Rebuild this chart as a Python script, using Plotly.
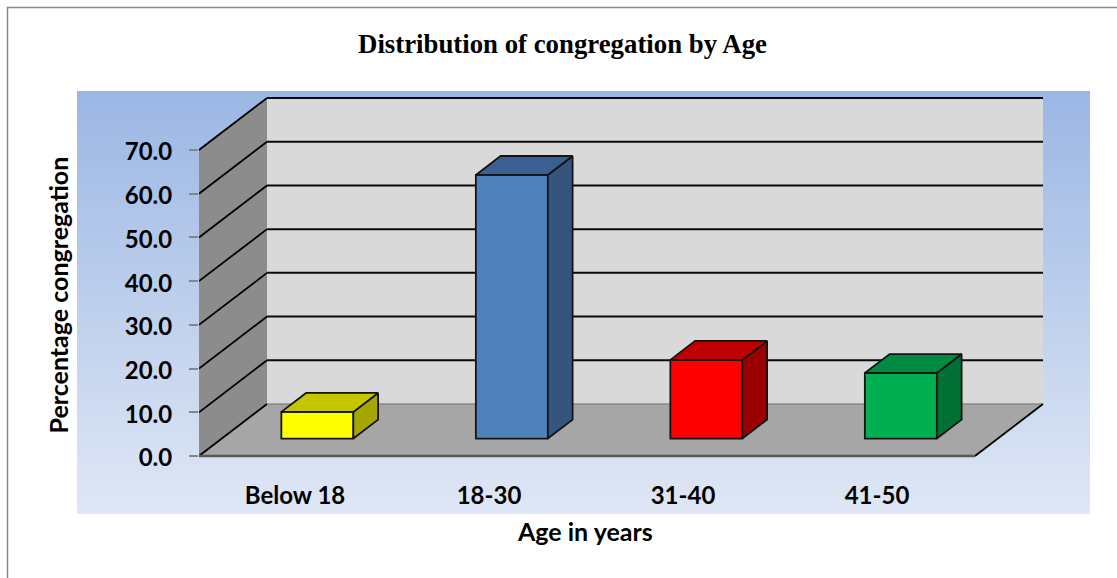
import plotly.graph_objects as go

# ---- data ----
categories = ["Below 18", "18-30", "31-40", "41-50"]
values = [6.1, 60.3, 18.0, 15.0]
y_ticks = [0, 10, 20, 30, 40, 50, 60, 70]
front_colors = ["#FFFF00", "#4F81BD", "#FF0000", "#00B050"]
top_colors = ["#C6C600", "#3A5F93", "#C00000", "#008C40"]
side_colors = ["#A6A600", "#35557F", "#9A0000", "#007034"]

# ---- page geometry ----
W, H = 1117, 578
PX_PER_CAT = 194.0
PX_PER_VAL = 306.0 / 70.0
LEFT, RIGHT, TOP, BOTTOM = 199, 1048, 95, 459
ZERO_PX = 456
DEPTH_X = 68 / PX_PER_CAT      # oblique depth, in category units
DEPTH_Y = 52 / PX_PER_VAL      # oblique depth, in value units
BAR_WIDTH = 72 / PX_PER_CAT
BAR_SHIFT = -1.5 / PX_PER_CAT
BAR_PITCH = 194.5 / PX_PER_CAT
D0, D1 = 0.336, 0.70           # bar position along the floor depth
X0, X1 = -0.5, 3.5
VMAX = y_ticks[-1]
EDGE = "#141414"


def proj(x, v, d):
    return x + d * DEPTH_X, v + d * DEPTH_Y


def poly_path(points):
    return "M " + " L ".join(f"{a},{b}" for a, b in points) + " Z"


def xp(px):
    return px / W


def yp(px):
    return 1 - px / H


shapes = []

# blue gradient panel behind the plot (bands overlap downward so no seams show)
PANEL = (77, 1090, 91, 514)
c_top, c_bot = (155, 183, 228), (224, 231, 245)
BAND = 3
for top in range(PANEL[2], PANEL[3], BAND):
    f = (top - PANEL[2]) / (PANEL[3] - PANEL[2])
    col = tuple(round(a + (b - a) * f) for a, b in zip(c_top, c_bot))
    shapes.append(dict(type="rect", xref="paper", yref="paper", layer="below",
                       x0=xp(PANEL[0]), x1=xp(PANEL[1]), y0=yp(top), y1=yp(PANEL[3]),
                       fillcolor=f"rgb{col}", line=dict(width=0)))

# outer chart frame (left and top edges visible)
shapes.append(dict(type="path", xref="paper", yref="paper", layer="below",
                   path=f"M {xp(7.5)},0 L {xp(7.5)},{yp(7.5)} L 1,{yp(7.5)}",
                   line=dict(color="#868686", width=1.5)))


def data_poly(points, fill, line=None):
    shapes.append(dict(type="path", xref="x", yref="y", layer="below", path=poly_path(points),
                       fillcolor=fill, line=line or dict(width=0)))


def data_line(a, b, color, width):
    shapes.append(dict(type="line", xref="x", yref="y", layer="below",
                       x0=a[0], y0=a[1], x1=b[0], y1=b[1], line=dict(color=color, width=width)))


# walls and floor
data_poly([proj(X0, 0, 1), proj(X1, 0, 1), proj(X1, VMAX, 1), proj(X0, VMAX, 1)], "#D9D9D9")
data_poly([proj(X0, 0, 0), proj(X0, 0, 1), proj(X0, VMAX, 1), proj(X0, VMAX, 0)], "#8C8C8C")
data_poly([proj(X0, 0, 0), proj(X1, 0, 0), proj(X1, 0, 1), proj(X0, 0, 1)], "#A6A6A6")

# gridlines along the left wall and the back wall
for t in y_ticks:
    data_line(proj(X0, t, 0), proj(X0, t, 1), "#000000", 1.8)
    if t > 0:
        data_line(proj(X0, t, 1), proj(X1, t, 1), "#0A0A0A", 2.0)
data_line(proj(X0, 0, 1), proj(X1, 0, 1), "#6E6E6E", 1.2)
data_line(proj(X1, 0, 0), proj(X1, 0, 1), "#000000", 1.8)
data_line(proj(X0, 0, 0), proj(X1, 0, 0), "#595959", 2.4)

fig = go.Figure()

# front faces
cat_pos = list(range(len(categories)))
bar_pos = [i * BAR_PITCH + BAR_SHIFT for i in cat_pos]
fig.add_trace(go.Bar(
    x=[proj(p, 0, D0)[0] for p in bar_pos],
    y=values,
    base=[proj(0, 0, D0)[1]] * len(values),
    width=BAR_WIDTH,
    marker=dict(color=front_colors, line=dict(color=EDGE, width=1.8)),
    showlegend=False,
    hovertext=categories,
))

# top and side faces
for p, v, tc, sc in zip(bar_pos, values, top_colors, side_colors):
    l, r = p - BAR_WIDTH / 2, p + BAR_WIDTH / 2
    side = [proj(r, 0, D0), proj(r, 0, D1), proj(r, v, D1), proj(r, v, D0), proj(r, 0, D0)]
    top = [proj(l, v, D0), proj(r, v, D0), proj(r, v, D1), proj(l, v, D1), proj(l, v, D0)]
    for pts, col in ((side, sc), (top, tc)):
        fig.add_trace(go.Scatter(
            x=[q[0] for q in pts], y=[q[1] for q in pts], mode="lines",
            fill="toself", fillcolor=col, line=dict(color=EDGE, width=1.8),
            showlegend=False, hoverinfo="skip",
        ))

TICK_FONT = dict(family="Lato", size=24, color="#000000", weight="bold")

fig.update_layout(
    width=W, height=H,
    margin=dict(l=0, r=0, t=0, b=0),
    paper_bgcolor="#FFFFFF", plot_bgcolor="rgba(0,0,0,0)",
    shapes=shapes,
    showlegend=False,
    title=dict(text="<b>Distribution of congregation by Age</b>",
               font=dict(family="Liberation Serif", size=26.8, color="#000000"),
               x=xp(562.5), xanchor="center", y=yp(44), yanchor="middle", xref="paper", yref="paper",
               automargin=False),
    xaxis=dict(domain=[xp(LEFT), xp(RIGHT)], automargin=False,
               range=[X0, X0 + (RIGHT - LEFT) / PX_PER_CAT],
               tickmode="array", tickvals=cat_pos, ticktext=categories,
               tickfont=TICK_FONT, ticks="", ticklabelstandoff=20, ticklabelshift=-1,
               showgrid=False, zeroline=False, showline=False),
    yaxis=dict(domain=[yp(BOTTOM), yp(TOP)], automargin=False,
               range=[(ZERO_PX - BOTTOM) / PX_PER_VAL, (ZERO_PX - TOP) / PX_PER_VAL],
               tickmode="array", tickvals=y_ticks, tickformat=".1f",
               tickfont=TICK_FONT, ticks="outside", ticklen=9, tickwidth=1.5, tickcolor="#868686",
               ticklabelstandoff=12, ticklabelshift=2,
               showgrid=False, zeroline=False, showline=False),
    annotations=[
        dict(text="<b>Percentage congregation</b>", xref="paper", yref="paper", x=xp(57.5), y=yp(295),
             xanchor="center", yanchor="middle", textangle=-90, showarrow=False,
             font=dict(family="Lato", size=25, color="#000000")),
        dict(text="<b>Age in years</b>", xref="paper", yref="paper", x=xp(585), y=yp(531),
             xanchor="center", yanchor="middle", showarrow=False,
             font=dict(family="Lato", size=25, color="#000000")),
    ],
)

fig.write_html("out.html", config=dict(displayModeBar=False),
               post_script="document.body.style.margin='0';document.body.style.overflow='hidden';")
